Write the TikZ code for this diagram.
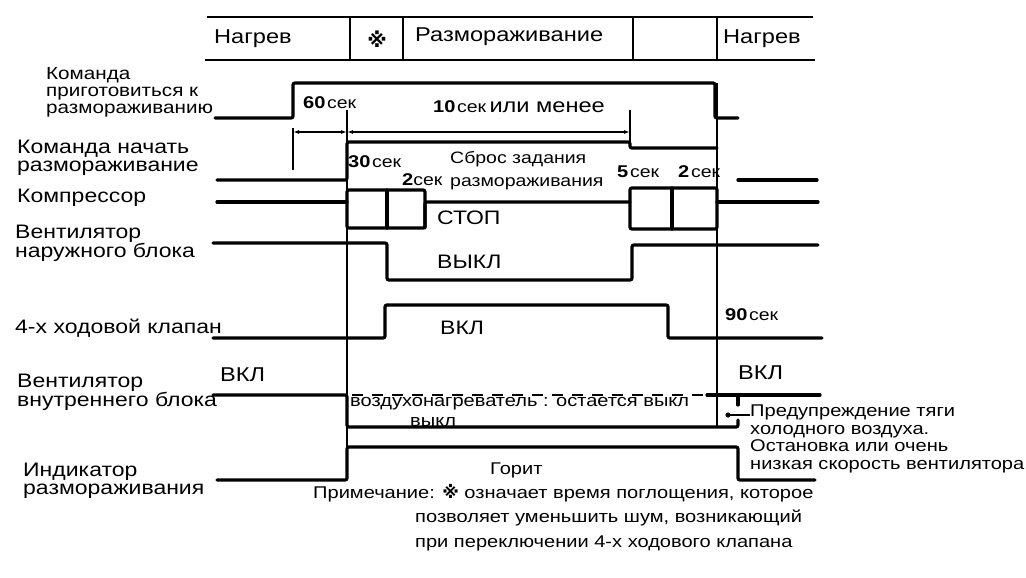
\documentclass[tikz,border=0pt]{standalone}
\usepackage{fontspec}
\setmainfont[FakeStretch=1.18]{Liberation Sans}
\newfontfamily\marksym{DejaVu Sans}
\usetikzlibrary{positioning,calc,arrows.meta}

\newcommand{\tsec}[1]{{\fontsize{17}{17}\selectfont\bfseries #1}\,{\fontsize{16.5}{17}\selectfont сек}}

\begin{document}
\begin{tikzpicture}[x=1pt,y=-1pt,
    sig/.style={line width=3.2pt, line cap=round, rounded corners=2pt},
    guide/.style={line width=1.6pt},
    bar/.style={line width=2.6pt},
    lbl/.style={align=left, anchor=west, inner sep=0pt, font=\fontsize{19.5}{18}\selectfont},
    txt/.style={anchor=west, inner sep=0pt, font=\fontsize{20}{20}\selectfont},
    small/.style={anchor=west, inner sep=0pt, font=\fontsize{17}{17}\selectfont},
    note/.style={anchor=west, inner sep=0pt, font=\fontsize{17}{17}\selectfont},
    dimarr/.style={guide, {Latex[length=6pt,width=4pt]}-{Latex[length=6pt,width=4pt]}}]
  \useasboundingbox (0,0) rectangle (1026,578);

  % mode bar
  \draw[bar] (207,17) -- (813,17);
  \draw[bar] (205,60) -- (815,60);
  \foreach \x in {350,403,633,717}
    \draw[bar] (\x,17) -- (\x,60);
  \node[txt] (heatA) at (214,39) {Нагрев};
  \node[anchor=center, inner sep=0pt, font=\fontsize{20}{20}\selectfont\marksym\bfseries] (star) at (377,39) {※};
  \node[txt] (defrost) at (415,37) {Размораживание};
  \node[txt] (heatB) at (723,39) {Нагрев};

  % signal names
  \node[lbl, font=\fontsize{17.5}{17}\selectfont] (prepname) at (46,92) {Команда\\приготовиться к\\размораживанию};
  \node[lbl] (startname) at (17,158) {Команда начать\\размораживание};
  \node[lbl] (compname) at (17,198) {Компрессор};
  \node[lbl] (ofanname) at (15,243) {Вентилятор\\наружного блока};
  \node[lbl] (valvename) at (15,328) {4-х ходовой клапан};
  \node[lbl] (ifanname) at (17,392) {Вентилятор\\внутреннего блока};
  \node[lbl] (indname) at (23,481) {Индикатор\\размораживания};

  % guides
  \draw[guide] (347,110) -- (347,480);
  \draw[guide] (717,83) -- (717,427);
  \draw[guide] (293,128) -- (293,170);
  \draw[guide] (630,110) -- (630,147);
  \draw[dimarr] (293,132) -- (347,132);
  \draw[dimarr] (347,132) -- (630,132);

  % signals
  \draw[sig] (215,118) -- (293,118) -- (293,83) -- (715,83) -- (715,118) -- (738,118);
  \draw[sig] (217,180) -- (347,180) -- (347,142) -- (630,142) -- (630,148) -- (717,148);
  \draw[sig] (738,180) -- (817,180);
  \draw[sig] (217,202) -- (347,202);
  \draw[sig] (347,190) rectangle (425,228);
  \draw[sig] (387,190) -- (387,228);
  \draw[sig] (425,228) -- (425,202) -- (630,202);
  \draw[sig] (630,188) rectangle (717,229);
  \draw[sig] (672,188) -- (672,229);
  \draw[sig] (717,202) -- (818,202);
  \draw[sig] (213,243) -- (387,243) -- (387,280) -- (632,280) -- (632,245) -- (818,245);
  \draw[sig] (213,338) -- (385,338) -- (385,305) -- (668,305) -- (668,338) -- (822,338);
  \draw[sig] (213,395) -- (347,395) -- (347,427) -- (738,427) -- (738,420);
  \draw[sig] (738,405) -- (738,395);
  \draw[sig] (707,395) -- (820,395);
  \draw[line width=2pt, dash pattern=on 11pt off 9pt] (352,395) -- (707,395);
  \draw[sig] (217,480) -- (347,480) -- (347,447) -- (738,447) -- (738,480) -- (815,480);

  % times
  \node[anchor=west, inner sep=0pt] (t60) at (303,103) {\tsec{60}};
  \node[anchor=west, inner sep=0pt] (t10) at (433,107) {\tsec{10} {\fontsize{20}{20}\selectfont или менее}};
  \node[anchor=west, inner sep=0pt] (t30) at (348,162) {\tsec{30}};
  \node[anchor=west, inner sep=0pt] (t2a) at (402,180) {{\fontsize{17}{17}\selectfont\bfseries 2}{\fontsize{16.5}{17}\selectfont сек}};
  \node[small, align=left, font=\fontsize{16.5}{23}\selectfont] (reset) at (450,171) {Сброс задания\\размораживания};
  \node[anchor=west, inner sep=0pt] (t5) at (617,172) {\tsec{5}};
  \node[anchor=west, inner sep=0pt] (t2b) at (678,172) {\tsec{2}};
  \node[anchor=west, inner sep=0pt] (t90) at (725,315) {\tsec{90}};

  % states
  \node[txt, font=\fontsize{19.5}{20}\selectfont] (stop) at (437,218) {СТОП};
  \node[txt, font=\fontsize{19.5}{20}\selectfont] (off) at (437,262) {ВЫКЛ};
  \node[txt, font=\fontsize{19.5}{20}\selectfont] (valveon) at (440,328) {ВКЛ};
  \node[txt] (fanonA) at (220,375) {ВКЛ};
  \node[txt] (fanonB) at (738,373) {ВКЛ};
  \node[small] (heater) at (350,404) {воздухонагреватель : остается выкл};
  \node[small] (fanoff) at (410,422) {выкл};
  \node[small] (lit) at (490,470) {Горит};

  % cold draft note
  \coordinate (dot) at (728,415);
  \node[small, align=left, font=\fontsize{17}{17.5}\selectfont, anchor=north west] (warn) at (750,405)
    {Предупреждение тяги\\холодного воздуха.\\Остановка или очень\\низкая скорость вентилятора};
  \fill (dot) circle (2.6pt);
  \draw[line width=1.4pt] (dot) -- (dot -| warn.west);

  % footnote
  \node[note] (noteA) at (313,493) {Примечание: {\marksym\bfseries ※} означает время поглощения, которое};
  \node[note] (noteB) at (415,518) {позволяет уменьшить шум, возникающий};
  \node[note] (noteC) at ($(noteB.west)+(0,25)$) {при переключении 4-х ходового клапана};
\end{tikzpicture}
\end{document}
